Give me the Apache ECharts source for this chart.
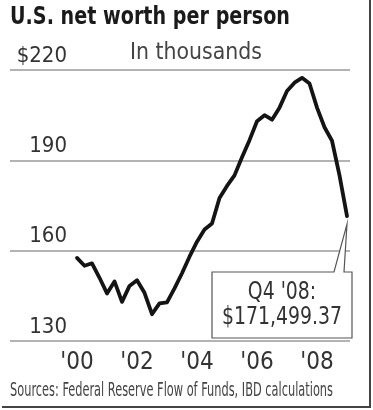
<!DOCTYPE html>
<html><head><meta charset="utf-8">
<script src="https://cdn.jsdelivr.net/npm/echarts@6/dist/echarts.min.js"></script>
<style>html,body{margin:0;padding:0;background:#fff}#c{width:373px;height:410px}</style>
</head><body><div id="c"></div>
<script>
// Quarter-end periods, Q4 1999 .. Q4 2008
const periods = ["1999Q4",
  "2000Q1","2000Q2","2000Q3","2000Q4",
  "2001Q1","2001Q2","2001Q3","2001Q4",
  "2002Q1","2002Q2","2002Q3","2002Q4",
  "2003Q1","2003Q2","2003Q3","2003Q4",
  "2004Q1","2004Q2","2004Q3","2004Q4",
  "2005Q1","2005Q2","2005Q3","2005Q4",
  "2006Q1","2006Q2","2006Q3","2006Q4",
  "2007Q1","2007Q2","2007Q3","2007Q4",
  "2008Q1","2008Q2","2008Q3","2008Q4"];
// Net worth per person, thousands of dollars
const netWorth = [157.6,
  155.0,155.8,151.0,145.8,
  149.8,143.0,148.3,150.2,
  146.0,138.9,142.5,142.8,
  147.5,152.5,158.0,163.0,
  167.0,169.0,177.5,181.5,
  185.0,191.0,196.7,203.0,
  205.0,203.5,207.5,213.0,
  215.8,217.4,215.5,207.5,
  201.0,196.5,185.0,171.5];
const yTicks = [130,160,190,220];
const xTickYears = [2000,2002,2004,2006,2008];
const calloutLines = ["Q4 '08:", "$171,499.37"];
const titleText = "U.S. net worth per person";
const unitText = "In thousands";
const sourceText = "Sources: Federal Reserve Flow of Funds, IBD calculations";

const FONT = "'DejaVu Sans Condensed','DejaVu Sans',sans-serif";
const mctx = document.createElement('canvas').getContext('2d');
function fitScale(text, font, target){ mctx.font = font; return target / mctx.measureText(text).width; }

const toX = p => Number(p.slice(0,4)) + Number(p.slice(5))/4;
const data = periods.map((p,i)=>[toX(p), netWorth[i]]);

const chart = echarts.init(document.getElementById('c'), null, {renderer:'canvas'});
chart.setOption({
  animation:false,
  backgroundColor:'#fff',
  grid:{left:10,right:23,top:70,bottom:69},
  xAxis:{type:'value',min:1997.7667,max:2009.1,
    axisLine:{show:false},axisTick:{show:false},splitLine:{show:false},
    axisLabel:{customValues:xTickYears,formatter:v=>"'"+String(v).slice(2),
      fontFamily:FONT,fontSize:24,color:'#333',margin:10}},
  yAxis:{type:'value',min:yTicks[0],max:yTicks[yTicks.length-1],interval:30,
    axisLine:{show:false},axisTick:{show:false},
    splitLine:{lineStyle:{color:'#9a9a9a',width:1.5}},
    axisLabel:{inside:true,align:'right',margin:57,verticalAlign:'bottom',padding:[0,0,3,0],
      formatter:v=>v===220?'$'+v:String(v),fontFamily:FONT,fontSize:22,color:'#333'}},
  series:[{type:'line',data:data,showSymbol:false,symbol:'none',
    lineStyle:{color:'#141414',width:3.8,join:'round',cap:'round'}}]
});

const tip = chart.convertToPixel({seriesIndex:0}, data[data.length-1]);
const tx = tip[0], ty = tip[1] + 8;
const bx0 = 212, bx1 = 352, by0 = 272, by1 = 338;
const titleFont = 'bold 24px ' + FONT;
const unitFont = '23px ' + FONT;
const srcFont = '19px ' + FONT;
const callFont = '24px ' + FONT;
const callScale = fitScale(calloutLines[1], callFont, 120);
chart.setOption({graphic:[
  {type:'text',x:10,y:18,scaleX:fitScale(titleText,titleFont,280),
    style:{text:titleText,align:'left',verticalAlign:'middle',font:titleFont,fill:'#1a1a1a'}},
  {type:'text',x:130,y:53,scaleX:fitScale(unitText,unitFont,132),
    style:{text:unitText,align:'left',verticalAlign:'middle',font:unitFont,fill:'#444'}},
  {type:'polygon',shape:{points:[[bx0,by0],[tx-13,by0],[tx,ty],[tx-3,by0],[bx1,by0],[bx1,by1],[bx0,by1]]},
    style:{fill:'#fff',stroke:'#555',lineWidth:1.2},z:10},
  {type:'text',x:(bx0+bx1)/2,y:293,z:11,scaleX:callScale,style:{text:calloutLines[0],align:'center',verticalAlign:'middle',font:callFont,fill:'#333'}},
  {type:'text',x:(bx0+bx1)/2,y:318,z:11,scaleX:callScale,style:{text:calloutLines[1],align:'center',verticalAlign:'middle',font:callFont,fill:'#333'}},
  {type:'text',x:10,y:391,scaleX:fitScale(sourceText,srcFont,323),
    style:{text:sourceText,align:'left',verticalAlign:'middle',font:srcFont,fill:'#444'}},
  {type:'rect',shape:{x:369,y:0,width:2,height:408},style:{fill:'#444'}},
  {type:'rect',shape:{x:2,y:406,width:369,height:2},style:{fill:'#444'}}
]});
</script></body></html>
